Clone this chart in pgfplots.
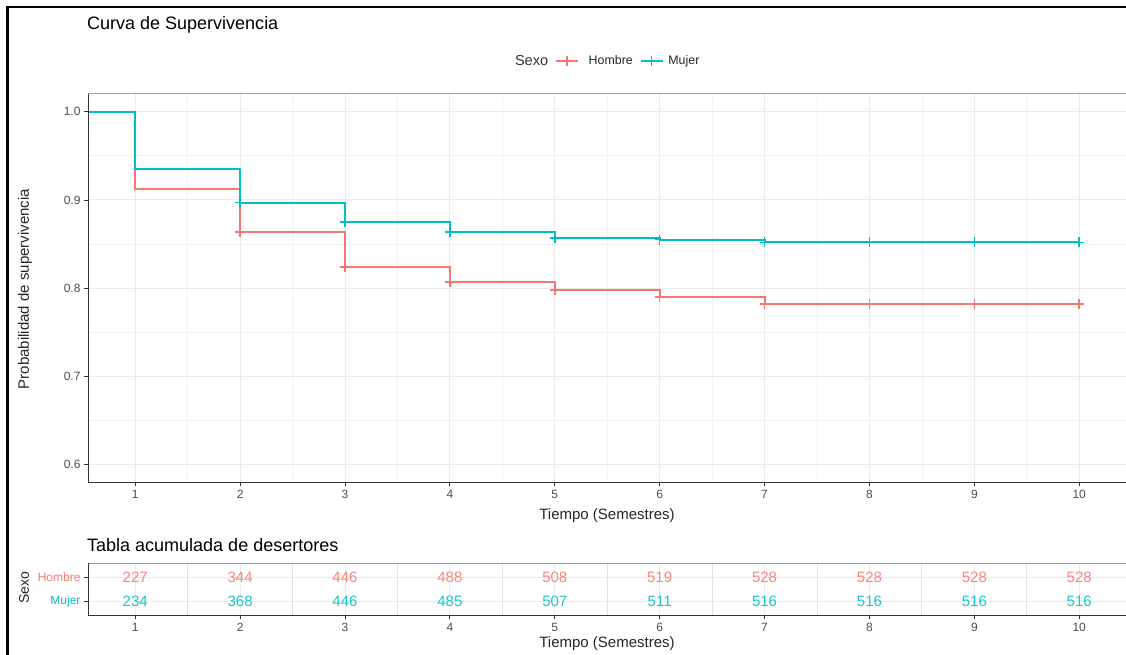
\documentclass[border=0pt]{standalone}
\usepackage{fontspec}
\setmainfont{Liberation Sans}
\usepackage{pgfplots}
\pgfplotsset{compat=1.18}

\definecolor{hombre}{HTML}{F8766D}
\definecolor{mujer}{HTML}{00BFC4}
\definecolor{gridmaj}{HTML}{EBEBEB}
\definecolor{gridmin}{HTML}{F2F2F2}
\definecolor{tablegrid}{HTML}{E2E2E2}
\definecolor{ticktxt}{HTML}{4D4D4D}
\definecolor{axisdark}{HTML}{333333}
\definecolor{boxgray}{HTML}{9A9A9A}
\newcommand{\fs}[1]{\fontsize{#1}{#1}\selectfont}

% shared look of the survival panel and the risk table panel
\pgfplotsset{
  kmpanel/.style={
    scale only axis,
    width=1038.5pt,
    xmin=0.55, xmax=10.45,
    xtick={1,2,3,4,5,6,7,8,9,10},
    minor x tick num=1,
    grid=both,
    major grid style={gridmaj, line width=0.9pt},
    minor grid style={gridmin, line width=0.7pt},
    axis line style={boxgray, line width=1pt},
    tick align=outside,
    xtick pos=bottom, ytick pos=left,
    major tick length=4pt, minor tick length=0pt,
    tick style={axisdark, line width=0.8pt},
    ticklabel style={font=\fs{12}, text=ticktxt},
    /pgf/number format/assume math mode=true,
  },
  legend image code/.code={%
    \draw[#1, mark repeat=2, mark phase=2]
      plot coordinates {(0pt,0pt) (11pt,0pt) (22pt,0pt)};},
}

\begin{document}
\begin{tikzpicture}
\useasboundingbox (0pt,0pt) rectangle (1126pt,655pt);
\clip (0pt,0pt) rectangle (1126pt,655pt);

% ---------------- survival curves ----------------
\begin{axis}[
  kmpanel,
  at={(88pt,172.5pt)}, anchor=south west,
  height=388.5pt,
  ymin=0.58, ymax=1.02,
  ytick={0.6,0.7,0.8,0.9,1.0},
  minor y tick num=1,
  yticklabel style={/pgf/number format/.cd, fixed, fixed zerofill, precision=1},
  legend columns=-1,
  legend style={at={(0.5,1.085)}, anchor=center, draw=none, fill=none,
    font=\fs{12.4}, text=black!85,
    /tikz/every even column/.append style={column sep=5pt}},
]
\addplot[hombre, line width=2pt, const plot, forget plot] coordinates {
  (0,1.000) (1,0.912) (2,0.864) (3,0.824) (4,0.807) (5,0.798) (6,0.790) (7,0.782) (10,0.782)};
\addplot[hombre, line width=1.6pt, only marks, mark=+, mark size=5pt, forget plot] coordinates {
  (2,0.864) (3,0.824) (4,0.807) (5,0.798) (6,0.790) (7,0.782) (8,0.782) (9,0.782) (10,0.782)};
\addplot[mujer, line width=2pt, const plot, forget plot] coordinates {
  (0,1.000) (1,0.935) (2,0.897) (3,0.875) (4,0.864) (5,0.857) (6,0.855) (7,0.852) (10,0.852)};
\addplot[mujer, line width=1.6pt, only marks, mark=+, mark size=5pt, forget plot] coordinates {
  (2,0.897) (3,0.875) (4,0.864) (5,0.857) (6,0.855) (7,0.852) (8,0.852) (9,0.852) (10,0.852)};

\addlegendimage{empty legend}
\addlegendentry{\fs{14.5}\color{black!80}Sexo}
\addlegendimage{hombre, line width=1.6pt, mark=+, mark size=5pt}
\addlegendentry{\hspace{8pt}Hombre}
\addlegendimage{mujer, line width=1.6pt, mark=+, mark size=5pt}
\addlegendentry{\hspace{3pt}Mujer}
\end{axis}

% ---------------- cumulative number of dropouts ----------------
\begin{axis}[
  kmpanel,
  at={(88pt,39.5pt)}, anchor=south west,
  height=52pt,
  ymin=0.4, ymax=2.6,
  ytick={1,2},
  yticklabels={\textcolor{mujer}{Mujer}, \textcolor{hombre}{Hombre}},
  minor y tick num=0,
  minor grid style={tablegrid, line width=0.9pt},
]
\addplot[only marks, mark=none, nodes near coords, point meta=explicit,
  nodes near coords style={anchor=center, font=\fs{15}, text=hombre!90!white}]
  coordinates {(1,2)[227] (2,2)[344] (3,2)[446] (4,2)[488] (5,2)[508]
               (6,2)[519] (7,2)[528] (8,2)[528] (9,2)[528] (10,2)[528]};
\addplot[only marks, mark=none, nodes near coords, point meta=explicit,
  nodes near coords style={anchor=center, font=\fs{15}, text=mujer!90!white}]
  coordinates {(1,1)[234] (2,1)[368] (3,1)[446] (4,1)[485] (5,1)[507]
               (6,1)[511] (7,1)[516] (8,1)[516] (9,1)[516] (10,1)[516]};
\end{axis}

% darker left and bottom axis lines
\draw[axisdark, line width=1pt] (88pt,561pt) -- (88pt,172.5pt) -- (1127pt,172.5pt);
\draw[axisdark, line width=1pt] (88pt,91.5pt) -- (88pt,39.5pt) -- (1127pt,39.5pt);

% ---------------- titles and axis titles ----------------
\node[anchor=base west, inner sep=0pt, font=\fs{18}] at (87pt,625pt) {Curva de Supervivencia};
\node[anchor=base west, inner sep=0pt, font=\fs{18}] at (87pt,103pt) {Tabla acumulada de desertores};
\node[rotate=90, font=\fs{15}, text=black!85] at (25pt,366pt) {Probabilidad de supervivencia};
\node[font=\fs{15}, text=black!85] at (607pt,139pt) {Tiempo (Semestres)};
\node[font=\fs{15}, text=black!85] at (607pt,11pt) {Tiempo (Semestres)};
\node[rotate=90, font=\fs{14}, text=black!85] at (24pt,67pt) {Sexo};

% outer frame
\draw[black, line width=2.2pt] (7.5pt,0pt) -- (7.5pt,648pt) -- (1130pt,648pt);
\end{tikzpicture}
\end{document}
